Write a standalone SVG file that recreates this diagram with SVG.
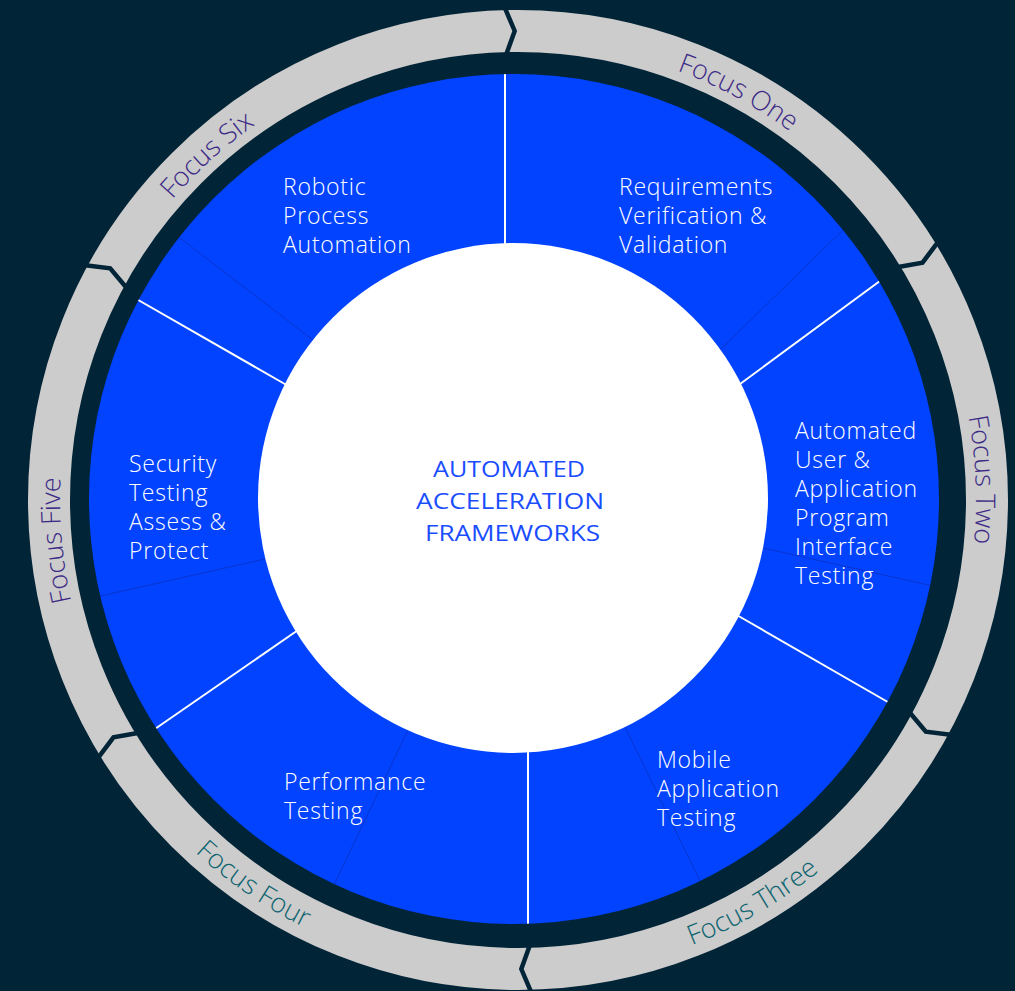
<svg xmlns="http://www.w3.org/2000/svg" width="1015" height="991" viewBox="0 0 1015 991">
<style>
.lbl{font-family:"Open Sans","Liberation Sans",sans-serif;font-weight:300;font-size:23px;letter-spacing:0.75px;fill:#ffffff}
.ctr{font-family:"Open Sans","Liberation Sans",sans-serif;font-weight:400;font-size:22px;fill:#1a4dff;text-anchor:middle}
.focus{font-family:"Open Sans","Liberation Sans",sans-serif;font-weight:300;font-size:27px;text-anchor:middle}
.purple{fill:#3d2b87}
.teal{fill:#0f6470}
.div{stroke:#ffffff;stroke-width:2;fill:none}
.seam{stroke:#0a33c8;stroke-width:0.9;fill:none}
.gap{stroke:#022437;stroke-width:4.5;fill:none;stroke-linejoin:miter}
</style>
<defs>
<clipPath id="disk"><circle cx="514" cy="499" r="425"/></clipPath>
<polyline id="chev" class="gap" points="518,4 528.6,31.1 518,58"/>
<path id="p1" d="M387.1,61.1 A458,458 0 0 1 956.9,369.1"/>
<path id="p2" d="M827.4,162.3 A458,458 0 0 1 855.7,809.4"/>
<path id="p3" d="M395.9,962.1 A478,478 0 0 0 980.1,622.1"/>
<path id="p4" d="M48.0,587.1 A478,478 0 0 0 605.1,970.0"/>
<path id="p5" d="M223.6,850.8 A458,458 0 0 1 167.2,205.6"/>
<path id="p6" d="M60.6,476.0 A458,458 0 0 1 542.0,42.6"/>
</defs>
<rect width="1015" height="991" fill="#022437"/>
<g id="outer-ring">
<circle cx="518" cy="500" r="469" fill="none" stroke="#cccccc" stroke-width="42"/>
<use href="#chev" transform="rotate(-1.7 518 500)"/>
<use href="#chev" transform="rotate(58.3 518 500)"/>
<use href="#chev" transform="rotate(118.3 518 500)"/>
<use href="#chev" transform="rotate(178.3 518 500)"/>
<use href="#chev" transform="rotate(238.3 518 500)"/>
<use href="#chev" transform="rotate(298.3 518 500)"/>
</g>
<g id="focus-labels">
<text id="focus-one" class="focus purple"><textPath href="#p1" startOffset="50%">Focus One</textPath></text>
<text id="focus-two" class="focus purple"><textPath href="#p2" startOffset="50%">Focus Two</textPath></text>
<text id="focus-three" class="focus teal"><textPath href="#p3" startOffset="50%">Focus Three</textPath></text>
<text id="focus-four" class="focus teal"><textPath href="#p4" startOffset="50%">Focus Four</textPath></text>
<text id="focus-five" class="focus purple"><textPath href="#p5" startOffset="50%">Focus Five</textPath></text>
<text id="focus-six" class="focus purple"><textPath href="#p6" startOffset="50%">Focus Six</textPath></text>
</g>
<g id="blue-disk">
<circle cx="514" cy="499" r="425" fill="#0143ff"/>
</g>
<g id="connectors" clip-path="url(#disk)">
<line class="seam" x1="720" y1="350" x2="846" y2="227"/>
<line class="seam" x1="763" y1="548" x2="942" y2="588"/>
<line class="seam" x1="625" y1="727" x2="701" y2="883"/>
<line class="seam" x1="408" y1="730" x2="333" y2="887"/>
<line class="seam" x1="265" y1="559" x2="96" y2="597"/>
<line class="seam" x1="313" y1="340" x2="176" y2="235"/>
<line class="div" x1="505" y1="250" x2="505" y2="70"/>
<line class="div" x1="736" y1="387" x2="884" y2="278"/>
<line class="div" x1="735" y1="614" x2="893" y2="705"/>
<line class="div" x1="528" y1="745" x2="528" y2="930"/>
<line class="div" x1="301" y1="628" x2="152" y2="731"/>
<line class="div" x1="290" y1="387" x2="133" y2="297"/>
</g>
<g id="center">
<circle cx="513" cy="498" r="255" fill="#ffffff"/>
<text class="ctr" x="509" y="477" textLength="152" lengthAdjust="spacingAndGlyphs">AUTOMATED</text>
<text class="ctr" x="510" y="509" textLength="188" lengthAdjust="spacingAndGlyphs">ACCELERATION</text>
<text class="ctr" x="512.5" y="541" textLength="175" lengthAdjust="spacingAndGlyphs">FRAMEWORKS</text>
</g>
<g id="node-requirements">
<text class="lbl" x="619"><tspan x="619" y="195">Requirements</tspan><tspan x="619" y="224">Verification &amp;</tspan><tspan x="619" y="253">Validation</tspan></text>
</g>
<g id="node-automated-ui-api">
<text class="lbl" x="795"><tspan x="795" y="439">Automated</tspan><tspan x="795" y="468">User &amp;</tspan><tspan x="795" y="497">Application</tspan><tspan x="795" y="526">Program</tspan><tspan x="795" y="555">Interface</tspan><tspan x="795" y="584">Testing</tspan></text>
</g>
<g id="node-mobile">
<text class="lbl" x="657"><tspan x="657" y="768">Mobile</tspan><tspan x="657" y="797">Application</tspan><tspan x="657" y="826">Testing</tspan></text>
</g>
<g id="node-performance">
<text class="lbl" x="284"><tspan x="284" y="790">Performance</tspan><tspan x="284" y="819">Testing</tspan></text>
</g>
<g id="node-security">
<text class="lbl" x="129"><tspan x="129" y="472">Security</tspan><tspan x="129" y="501">Testing</tspan><tspan x="129" y="530">Assess &amp;</tspan><tspan x="129" y="559">Protect</tspan></text>
</g>
<g id="node-rpa">
<text class="lbl" x="283"><tspan x="283" y="195">Robotic</tspan><tspan x="283" y="224">Process</tspan><tspan x="283" y="253">Automation</tspan></text>
</g>
</svg>
